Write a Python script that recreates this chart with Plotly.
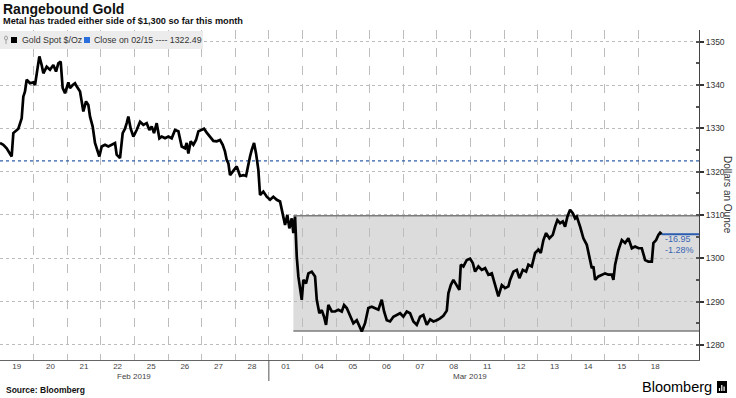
import plotly.graph_objects as go

# ---------------- data ----------------
day_labels = ["19", "20", "21", "22", "25", "26", "27", "28",
              "01", "04", "05", "06", "07", "08", "11", "12", "13", "14", "15", "18"]
month_labels = ["Feb 2019", "Mar 2019"]
month_day_counts = [8, 12]

# fractional trading-day offset from the open of 19 Feb
t_days = [0.000, 0.099, 0.198, 0.298, 0.347, 0.397, 0.496, 0.546, 0.645, 0.694,
          0.744, 0.794, 0.893, 0.992, 1.042, 1.091, 1.171, 1.240, 1.290, 1.389,
          1.488, 1.587, 1.667, 1.736, 1.806, 1.865, 1.935, 2.034, 2.083, 2.163,
          2.232, 2.282, 2.381, 2.431, 2.480, 2.560, 2.629, 2.679, 2.758, 2.827,
          2.877, 2.956, 3.026, 3.125, 3.224, 3.323, 3.423, 3.472, 3.571, 3.651,
          3.720, 3.770, 3.819, 3.889, 3.968, 4.067, 4.167, 4.266, 4.365, 4.444,
          4.514, 4.583, 4.663, 4.742, 4.812, 4.911, 5.010, 5.109, 5.208, 5.308,
          5.407, 5.506, 5.556, 5.605, 5.675, 5.754, 5.833, 5.903, 6.002, 6.071,
          6.151, 6.250, 6.349, 6.449, 6.548, 6.627, 6.696, 6.746, 6.796, 6.845,
          6.944, 7.044, 7.143, 7.242, 7.321, 7.391, 7.440, 7.491, 7.560, 7.619,
          7.688, 7.738, 7.836, 7.938, 8.036, 8.134, 8.235, 8.333, 8.414, 8.482,
          8.551, 8.610, 8.682, 8.729, 8.780, 8.830, 8.878, 8.929, 8.979, 9.027,
          9.107, 9.176, 9.277, 9.375, 9.426, 9.503, 9.574, 9.643, 9.702, 9.771,
          9.872, 9.970, 10.068, 10.170, 10.238, 10.318, 10.417, 10.515, 10.616, 10.714,
          10.765, 10.863, 10.961, 11.063, 11.161, 11.259, 11.360, 11.429, 11.509, 11.607,
          11.705, 11.807, 11.905, 12.003, 12.104, 12.202, 12.301, 12.402, 12.500, 12.598,
          12.699, 12.798, 12.896, 12.997, 13.095, 13.193, 13.295, 13.342, 13.414, 13.491,
          13.592, 13.670, 13.711, 13.789, 13.890, 13.988, 14.068, 14.137, 14.235, 14.336,
          14.435, 14.533, 14.634, 14.732, 14.830, 14.932, 15.030, 15.128, 15.179, 15.277,
          15.378, 15.455, 15.557, 15.655, 15.723, 15.824, 15.923, 16.021, 16.092, 16.170,
          16.250, 16.348, 16.449, 16.518, 16.586, 16.667, 16.747, 16.815, 16.884, 16.964,
          17.045, 17.113, 17.164, 17.262, 17.360, 17.461, 17.539, 17.610, 17.658, 17.708,
          17.807, 17.908, 18.006, 18.104, 18.205, 18.253, 18.304, 18.402, 18.503, 18.601,
          18.699, 18.750, 18.801, 18.899, 18.997, 19.098, 19.196, 19.295, 19.396, 19.443,
          19.524, 19.592, 19.643, 19.693]

gold_price = [1326.6, 1326.2, 1325.4, 1323.9, 1323.5, 1328.9, 1329.6, 1329.9, 1332.3, 1337.3,
              1338.5, 1341.2, 1340.4, 1340.6, 1340.0, 1342.7, 1346.6, 1344.6, 1342.7, 1344.2,
              1343.5, 1344.6, 1343.1, 1345.0, 1345.4, 1339.3, 1338.1, 1340.6, 1339.3, 1340.0,
              1340.4, 1339.7, 1338.5, 1336.2, 1333.9, 1336.2, 1335.4, 1332.7, 1330.4, 1326.6,
              1325.4, 1323.5, 1325.8, 1326.2, 1325.8, 1326.2, 1326.6, 1323.9, 1323.1, 1328.9,
              1329.9, 1331.2, 1332.7, 1329.9, 1328.1, 1329.6, 1331.5, 1330.8, 1331.2, 1329.6,
              1330.4, 1328.9, 1331.2, 1327.7, 1328.1, 1327.7, 1328.1, 1327.7, 1329.6, 1329.3,
              1325.8, 1325.4, 1326.6, 1324.2, 1327.0, 1326.2, 1327.3, 1329.3, 1329.6, 1329.9,
              1329.0, 1328.1, 1327.1, 1327.0, 1327.3, 1326.2, 1324.6, 1322.7, 1321.9, 1319.2,
              1320.2, 1321.2, 1319.0, 1319.2, 1319.0, 1321.9, 1323.5, 1325.0, 1326.6, 1324.2,
              1320.4, 1314.6, 1315.4, 1314.2, 1313.5, 1314.2, 1313.5, 1313.1, 1310.4, 1307.7,
              1310.0, 1306.9, 1309.2, 1305.8, 1309.6, 1300.4, 1295.8, 1292.7, 1290.4, 1295.0,
              1294.2, 1296.5, 1296.9, 1295.8, 1290.4, 1287.3, 1288.0, 1286.5, 1284.6, 1289.2,
              1287.7, 1287.7, 1288.1, 1287.7, 1289.2, 1288.5, 1286.5, 1285.0, 1285.7, 1284.2,
              1283.1, 1285.0, 1288.5, 1288.8, 1288.5, 1288.1, 1290.4, 1287.7, 1285.7, 1285.4,
              1286.5, 1286.9, 1287.3, 1286.5, 1287.7, 1287.3, 1285.4, 1284.6, 1286.5, 1286.9,
              1284.6, 1285.9, 1285.4, 1285.7, 1286.1, 1286.7, 1287.9, 1291.9, 1293.8, 1295.0,
              1293.8, 1292.7, 1298.5, 1298.1, 1299.6, 1299.9, 1298.9, 1296.9, 1298.1, 1297.3,
              1297.7, 1296.2, 1296.5, 1293.5, 1291.2, 1293.8, 1293.1, 1293.5, 1295.0, 1296.9,
              1297.3, 1295.4, 1297.3, 1296.9, 1298.5, 1298.1, 1301.2, 1302.0, 1301.2, 1304.2,
              1305.8, 1304.6, 1305.4, 1307.3, 1308.8, 1308.1, 1308.5, 1307.3, 1309.6, 1311.2,
              1310.4, 1309.2, 1309.6, 1307.3, 1304.6, 1303.1, 1300.4, 1297.7, 1298.1, 1295.0,
              1295.8, 1296.2, 1296.5, 1296.2, 1296.2, 1295.0, 1298.5, 1301.9, 1304.2, 1303.5,
              1304.6, 1303.5, 1302.3, 1302.7, 1302.3, 1302.3, 1299.6, 1299.2, 1299.2, 1303.5,
              1304.2, 1305.4, 1305.9, 1305.54]

close_0215 = 1322.49
range_high = 1309.8
range_low = 1283.2
range_start_day = 8.73
y_ticks = [1280, 1290, 1300, 1310, 1320, 1330, 1340, 1350]

# ---------------- layout helpers ----------------
FONT = "Liberation Sans"
W, H = 736, 398
ML, MR, MT, MB = 0, 37, 30, 38
PW, PH = W - ML - MR, H - MT - MB
X_MAX = 20.8
Y_MIN, Y_MAX = 1276.5, 1352.7


def px(x):
    return (x - ML) / PW


def py(y):
    return (H - MB - y) / PH


n_days = len(day_labels)
last_val = gold_price[-1]
chg = last_val - close_0215
chg_pct = chg / close_0215 * 100

fig = go.Figure()
fig.add_trace(go.Scatter(x=t_days, y=gold_price, mode="lines",
                         line=dict(color="#000000", width=2.7),
                         hoverinfo="skip", showlegend=False))

shapes = [
    # trading range box
    dict(type="rect", xref="x", yref="y", x0=range_start_day, x1=X_MAX,
         y0=range_low, y1=range_high, fillcolor="#dcdcdc", line=dict(width=0), layer="below"),
    dict(type="line", xref="x", yref="y", x0=range_start_day, x1=X_MAX,
         y0=range_high, y1=range_high, line=dict(color="#7c7c7c", width=1.5), layer="between"),
    dict(type="line", xref="x", yref="y", x0=range_start_day, x1=X_MAX,
         y0=range_low, y1=range_low, line=dict(color="#7c7c7c", width=1.5), layer="between"),
    # close on 02/15 reference
    dict(type="line", xref="x", yref="y", x0=0, x1=X_MAX, y0=close_0215, y1=close_0215,
         line=dict(color="#2f5fa8", width=1.2, dash="dot"), layer="between"),
    # last value extension
    dict(type="line", xref="x", yref="y", x0=t_days[-1], x1=X_MAX, y0=last_val, y1=last_val,
         line=dict(color="#2a5db0", width=2), layer="above"),
    # month separator below axis
    dict(type="line", xref="x", yref="paper", x0=month_day_counts[0], x1=month_day_counts[0],
         y0=0, y1=py(381), line=dict(color="#555555", width=1)),
    # legend strip
    dict(type="rect", xref="paper", yref="paper", x0=px(0), x1=px(203), y0=py(49), y1=py(31),
         fillcolor="#ececec", line=dict(width=0), layer="above"),
    dict(type="rect", xref="paper", yref="paper", x0=px(11), x1=px(17), y0=py(43), y1=py(37),
         fillcolor="#000000", line=dict(width=0), layer="above"),
    dict(type="rect", xref="paper", yref="paper", x0=px(84), x1=px(90), y0=py(43), y1=py(37),
         fillcolor="#2a6fdc", line=dict(width=0), layer="above"),
    dict(type="line", xref="paper", yref="paper", x0=px(6), x1=px(6), y0=py(44), y1=py(39),
         line=dict(color="#a0a0a0", width=1), layer="above"),
    dict(type="circle", xref="paper", yref="paper", x0=px(4.5), x1=px(7.5), y0=py(40), y1=py(36),
         line=dict(color="#a0a0a0", width=1), layer="above"),
    # Bloomberg icon
    dict(type="rect", xref="paper", yref="paper", x0=px(717), x1=px(727), y0=py(393), y1=py(381),
         fillcolor="#000000", line=dict(width=0)),
]
for bx, top in [(719.5, 388), (721.8, 385), (724.1, 386.5)]:
    shapes.append(dict(type="line", xref="paper", yref="paper", x0=px(bx), x1=px(bx),
                       y0=py(391), y1=py(top), line=dict(color="#ffffff", width=1.2)))

annotations = [
    dict(text="<b>Rangebound Gold</b>", x=px(1), y=py(9), xanchor="left", yanchor="middle",
         font=dict(family=FONT, size=14, color="#111111")),
    dict(text="<b>Metal has traded either side of $1,300 so far this month</b>", x=px(1), y=py(21),
         xanchor="left", yanchor="middle", font=dict(family=FONT, size=9.2, color="#111111")),
    dict(text="Gold Spot $/Oz", x=px(20), y=py(40), xanchor="left", yanchor="middle",
         font=dict(family=FONT, size=8.8, color="#333333")),
    dict(text=f"Close on 02/15 ---- {close_0215:.2f}", x=px(92), y=py(40), xanchor="left",
         yanchor="middle", font=dict(family=FONT, size=8.8, color="#333333")),
    dict(text=f"{chg:.2f}", x=t_days[-1] + 0.03, xref="x", y=py(239), xanchor="left",
         yanchor="middle", font=dict(family=FONT, size=9, color="#3b66b3")),
    dict(text=f"{chg_pct:.2f}%", x=t_days[-1] + 0.03, xref="x", y=py(250), xanchor="left",
         yanchor="middle", font=dict(family=FONT, size=9, color="#3b66b3")),
    dict(text="Dollars an Ounce", x=px(728), y=py(195), xanchor="center", yanchor="middle",
         textangle=90, font=dict(family=FONT, size=10, color="#333333")),
    dict(text="<b>Source: Bloomberg</b>", x=px(4), y=py(389.5), xanchor="left", yanchor="middle",
         font=dict(family=FONT, size=8.5, color="#111111")),
    dict(text="Bloomberg", x=px(714), y=py(387), xanchor="right", yanchor="middle",
         font=dict(family=FONT, size=14.5, color="#000000")),
]
start = 0
for label, cnt in zip(month_labels, month_day_counts):
    annotations.append(dict(text=label, xref="x", x=start + cnt / 2, y=py(376),
                            xanchor="center", yanchor="middle",
                            font=dict(family=FONT, size=8, color="#444444")))
    start += cnt
for a in annotations:
    a.setdefault("xref", "paper")
    a.setdefault("yref", "paper")
    a["showarrow"] = False

fig.update_layout(
    width=W, height=H,
    margin=dict(l=ML, r=MR, t=MT, b=MB, pad=0),
    paper_bgcolor="white", plot_bgcolor="white",
    showlegend=False,
    shapes=shapes, annotations=annotations,
    xaxis=dict(range=[0, X_MAX], tickmode="array",
               tickvals=[i + 0.5 for i in range(n_days)], ticktext=day_labels,
               showgrid=False, zeroline=False, showline=True, linecolor="#666666", linewidth=1,
               ticks="", ticklen=0, ticklabelstandoff=-2,
               tickfont=dict(family=FONT, size=8, color="#444444"),
               minor=dict(tickmode="array", tickvals=list(range(1, n_days)), showgrid=True,
                          griddash="dash", gridcolor="#bdbdbd", gridwidth=1, ticks=""),
               fixedrange=True),
    yaxis=dict(range=[Y_MIN, Y_MAX], side="right", tickmode="array", tickvals=y_ticks,
               showgrid=True, griddash="dot", gridcolor="#bcbcbc", gridwidth=1, zeroline=False,
               showline=True, linecolor="#444444", linewidth=1,
               ticks="outside", ticklen=4, tickwidth=1.5, tickcolor="#333333",
               tickfont=dict(family=FONT, size=8.5, color="#333333"),
               minor=dict(dtick=5, tick0=1275, ticks="inside", ticklen=3, tickcolor="#555555",
                          showgrid=False),
               fixedrange=True),
)

fig.write_html("out.html", config={"displayModeBar": False},
               post_script="document.body.style.margin='0px';")
